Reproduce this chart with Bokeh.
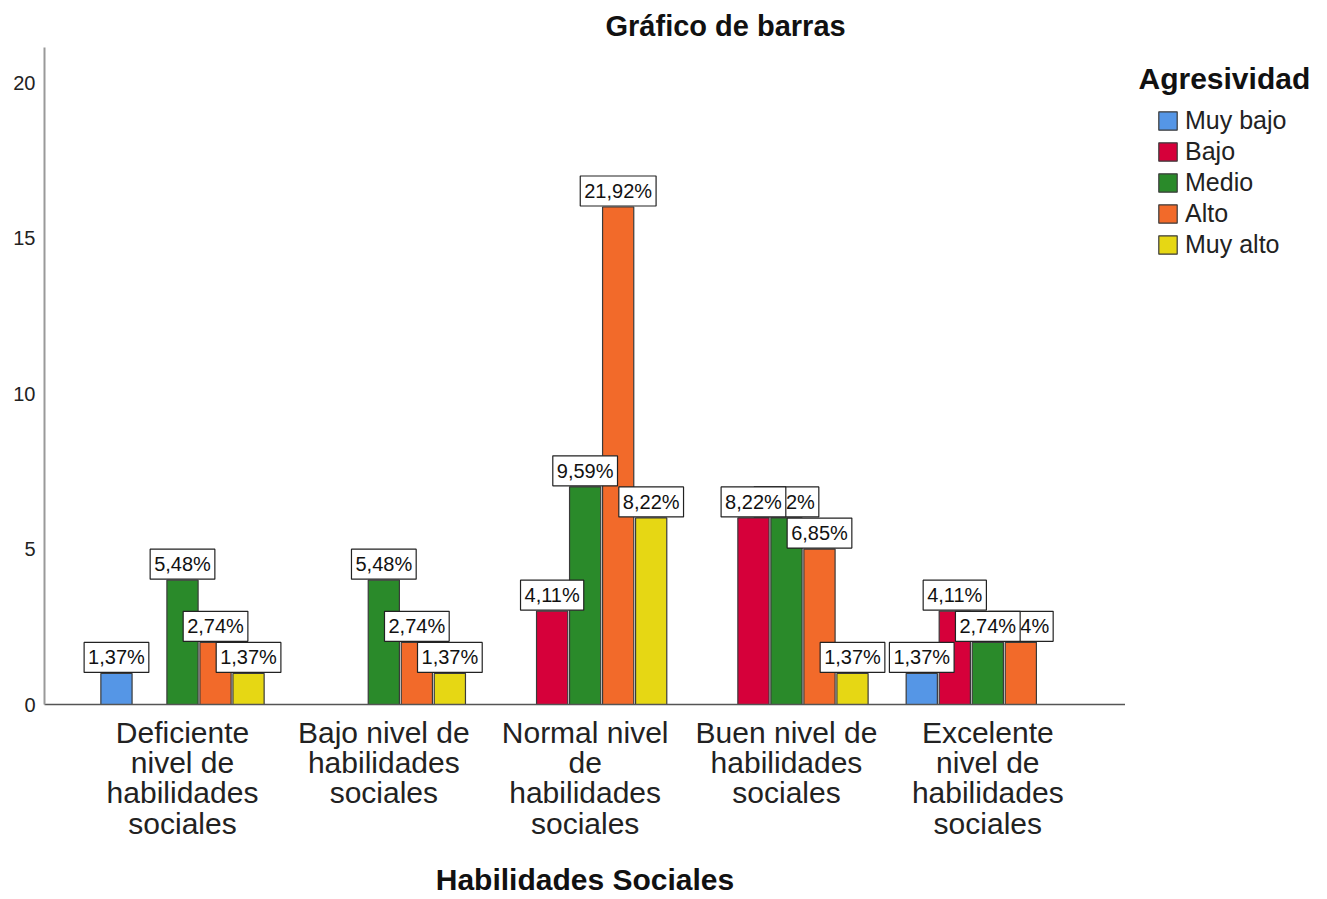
from bokeh.plotting import figure
from bokeh.layouts import row
from bokeh.models import (Range1d, FixedTicker, Label, Legend, LegendItem,
                          ColumnDataSource)
from bokeh.embed import file_html
from bokeh.resources import INLINE

# ---- data (counts, N = 73) ----
groups = ["Deficiente\nnivel de\nhabilidades\nsociales",
          "Bajo nivel de\nhabilidades\nsociales",
          "Normal nivel\nde\nhabilidades\nsociales",
          "Buen nivel de\nhabilidades\nsociales",
          "Excelente\nnivel de\nhabilidades\nsociales"]
series = ["Muy bajo", "Bajo", "Medio", "Alto", "Muy alto"]
colors = ["#5596E6", "#D6003A", "#2A8A2A", "#F26A2A", "#E6D714"]
muy_bajo = [1, 0, 0, 0, 1]
bajo     = [0, 0, 3, 6, 3]
medio    = [4, 4, 7, 6, 2]
alto     = [2, 2, 16, 5, 2]
muy_alto = [1, 1, 6, 1, 0]
counts = [muy_bajo, bajo, medio, alto, muy_alto]
total_n = 73
y_ticks = [0, 5, 10, 15, 20]

FONT = "Liberation Sans"
SLOT = 0.164
BAR_W = 0.155
LINE = "#3a3a3a"

p = figure(width=1125, height=899, output_backend="svg", toolbar_location=None,
           x_range=Range1d(-0.6855, 4.684), y_range=Range1d(0, 21.13),
           min_border_left=44, min_border_top=47, min_border_bottom=195,
           min_border_right=0)
p.outline_line_color = None
p.xgrid.visible = False
p.ygrid.visible = False
p.background_fill_color = "white"

# title
p.title.text = "Gráfico de barras"
p.title.align = "left"
p.title.offset = 561
p.title.text_font = FONT
p.title.text_font_size = "29px"
p.title.text_font_style = "bold"
p.title.text_color = "#111111"
p.title.standoff = 11

# bars
for j, (name, col, vals) in enumerate(zip(series, colors, counts)):
    xs = [i + (j - 2) * SLOT for i, v in enumerate(vals) if v > 0]
    ys = [v for v in vals if v > 0]
    src = ColumnDataSource(dict(x=xs, top=ys))
    p.vbar(x="x", top="top", width=BAR_W, bottom=0, source=src,
           fill_color=col, line_color=LINE, line_width=1.2)

# data labels (drawn last series first, like the reference)
for j in reversed(range(len(series))):
    for i, v in enumerate(counts[j]):
        if v <= 0:
            continue
        txt = f"{v / total_n * 100:.2f}".replace(".", ",") + "%"
        lab = Label(x=i + (j - 2) * SLOT, y=v, text=txt,
                    text_align="center", text_baseline="bottom",
                    y_offset=1, text_font=FONT, text_font_size="20px",
                    text_color="#111111",
                    background_fill_color="white",
                    border_line_color="#222222", border_line_width=1.2,
                    padding=4)
        p.add_layout(lab)

# axes
xa = p.xaxis[0]
xa.ticker = FixedTicker(ticks=list(range(len(groups))))
xa.major_label_overrides = {i: g for i, g in enumerate(groups)}
xa.axis_line_color = "#555555"
xa.axis_line_width = 1.5
xa.major_tick_line_color = None
xa.minor_tick_line_color = None
xa.major_tick_out = 0
xa.major_tick_in = 0
xa.major_label_standoff = 11
xa.major_label_text_font = FONT
xa.major_label_text_font_size = "30px"
xa.major_label_text_line_height = 0.92
xa.major_label_text_color = "#222222"
xa.axis_label = "Habilidades Sociales"
xa.axis_label_standoff = 20
xa.axis_label_text_font = FONT
xa.axis_label_text_font_size = "30px"
xa.axis_label_text_font_style = "bold"
xa.axis_label_text_color = "#111111"

ya = p.yaxis[0]
ya.ticker = FixedTicker(ticks=y_ticks)
ya.axis_line_color = "#999999"
ya.axis_line_width = 2
ya.major_tick_line_color = None
ya.minor_tick_line_color = None
ya.major_label_standoff = 3
ya.major_label_text_font = FONT
ya.major_label_text_font_size = "20px"
ya.major_label_text_color = "#222222"

# ---- legend panel (separate figure to the right; its frame aligns with p's) ----
lp = figure(width=195, height=899, output_backend="svg", toolbar_location=None,
            x_range=Range1d(0, 1), y_range=Range1d(0, 1),
            min_border=0, x_axis_type=None, y_axis_type=None)
lp.outline_line_color = None
lp.xgrid.visible = False
lp.ygrid.visible = False

nan = float("nan")
legend_renderers = []
for name, col in zip(series, colors):
    # legend proxy: one non-drawable row so the legend swatch is rendered
    r = lp.vbar(x=[nan], top=[nan], width=0.1, fill_color=col, line_color=LINE,
                line_width=1.2)
    legend_renderers.append(r)

legend = Legend(items=[LegendItem(label=s, renderers=[r], index=0)
                       for s, r in zip(series, legend_renderers)],
                location=(31, 444), padding=0, margin=0, spacing=0,
                glyph_width=23, glyph_height=23, label_standoff=6, label_height=31,
                label_text_font=FONT, label_text_font_size="25px",
                label_text_color="#222222",
                border_line_alpha=0, background_fill_alpha=0)
lp.add_layout(legend)

lp.add_layout(Label(x=13, y=626, x_units="screen", y_units="screen",
                    text="Agresividad", text_font=FONT, text_font_size="30px",
                    text_font_style="bold", text_color="#111111",
                    text_baseline="alphabetic"))

layout = row(p, lp)
open("out.html", "w").write(file_html(layout, INLINE))
